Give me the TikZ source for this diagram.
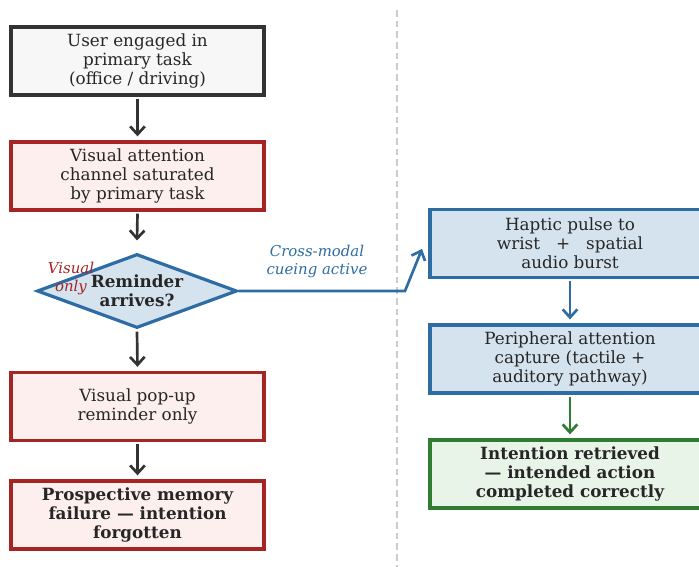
\documentclass[tikz,border=0pt]{standalone}
\usepackage{fontspec}
\setmainfont{DejaVu Serif}
\usetikzlibrary{shapes.geometric,arrows.meta}
\definecolor{grayfill}{HTML}{F7F7F7}
\definecolor{darkline}{HTML}{333333}
\definecolor{redfill}{HTML}{FDEFEE}
\definecolor{redline}{HTML}{A52424}
\definecolor{bluefill}{HTML}{D5E3EF}
\definecolor{blueline}{HTML}{2E6CA4}
\definecolor{greenfill}{HTML}{E7F4E7}
\definecolor{greenline}{HTML}{2E7D32}
\tikzset{
  txt/.style={font=\fontsize{12.6}{14.4}\selectfont},
  box/.style={draw, line width=2.5pt, minimum width=253*0.75pt, minimum height=68*0.75pt, align=center, inner sep=0pt, txt, text=black!85},
  graybox/.style={box, fill=grayfill, draw=darkline},
  redbox/.style={box, fill=redfill, draw=redline},
  bluebox/.style={box, fill=bluefill, draw=blueline, minimum width=280*0.75pt},
  greenbox/.style={box, fill=greenfill, draw=greenline, minimum width=280*0.75pt},
  arr/.style={line width=2pt, -{Straight Barb[length=6pt,width=11pt,line width=2pt]}},
  lbl/.style={font=\fontsize{11.2}{12.8}\selectfont\itshape, align=center},
}
\begin{document}
\begin{tikzpicture}[x=0.75pt,y=-0.75pt]
\useasboundingbox (0,0) rectangle (699,567);
\draw[line width=1.2pt, draw=black!20, dash pattern=on 5pt off 3pt] (397,10) -- (397,567);
\node[graybox] (b1) at (137.5,61) {User engaged in\\primary task\\(office / driving)};
\node[redbox] (b2) at (137.5,176) {Visual attention\\channel saturated\\by primary task};
\node[diamond, draw=blueline, fill=bluefill, line width=2.4pt, minimum width=200*0.75pt, minimum height=74*0.75pt, inner sep=0pt] (d) at (137,291) {};
\node[txt, font=\fontsize{12.6}{14.4}\selectfont\bfseries, text=black!85, align=center] (dt) at (137,291) {Reminder\\arrives?};
\node[redbox] (b3) at (137.5,406.5) {Visual pop-up\\reminder only};
\node[redbox, font=\fontsize{12.6}{14.4}\selectfont\bfseries] (b4) at (137.5,515) {Prospective memory\\failure --- intention\\forgotten};
\node[bluebox] (r1) at (570,243.5) {Haptic pulse to\\wrist \ \ + \ \ spatial\\audio burst};
\node[bluebox] (r2) at (570,359) {Peripheral attention\\capture (tactile +\\auditory pathway)};
\node[greenbox, font=\fontsize{12.6}{14.4}\selectfont\bfseries] (r3) at (570,474) {Intention retrieved\\--- intended action\\completed correctly};
\node[lbl, text=redline] (lv) at (71,278.5) {Visual\\only};
\node[lbl, text=blueline] (lc) at (317,261.5) {Cross-modal\\cueing active};
\coordinate (bend) at (405,291);
\coordinate (tip) at (422,249);
\draw[arr, draw=darkline] (b1.south) ++(0,2) -- ([yshift=3]b2.north);
\draw[arr, draw=darkline] (b2.south) ++(0,2) -- ([yshift=9]d.north);
\draw[arr, draw=darkline] (d.south) ++(0,2) -- ([yshift=3]b3.north);
\draw[arr, draw=darkline] (b3.south) ++(0,2) -- ([yshift=3]b4.north);
\draw[arr, draw=blueline] (d.east) -- (bend) -- (tip);
\draw[arr, draw=blueline] (r1.south) ++(0,2) -- ([yshift=3]r2.north);
\draw[arr, draw=greenline] (r2.south) ++(0,2) -- ([yshift=3]r3.north);
\end{tikzpicture}
\end{document}
